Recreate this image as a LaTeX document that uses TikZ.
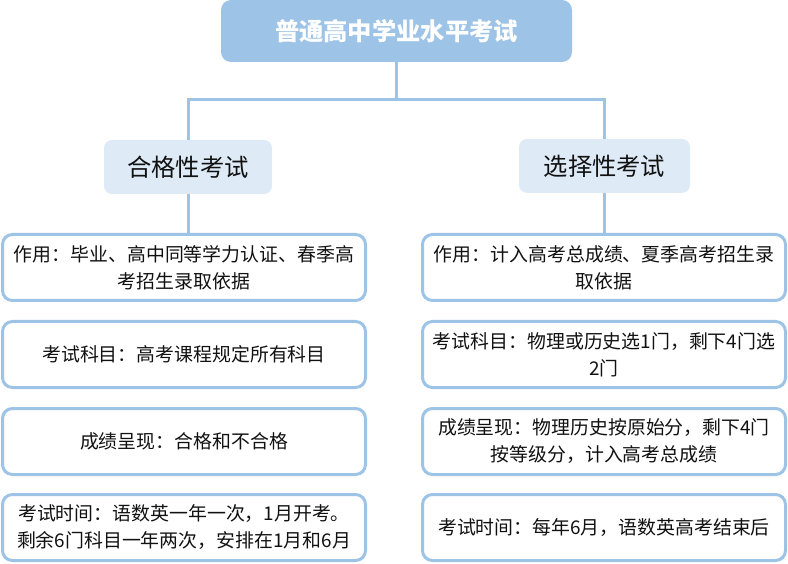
\documentclass[tikz,border=0pt]{standalone}
\usepackage{fontspec}
\setmainfont{Noto Sans CJK SC}
\definecolor{lineblue}{HTML}{9DC3E6}
\definecolor{midfill}{HTML}{DEEBF7}
\definecolor{txt}{HTML}{111111}
\begin{document}
\begin{tikzpicture}[x=1pt,y=1pt,
  topbox/.style={fill=lineblue, rounded corners=10pt, minimum width=351pt, minimum height=62pt, inner sep=0pt,
    text=white, font=\fontsize{24.3}{28}\selectfont\bfseries},
  midbox/.style={fill=midfill, rounded corners=8pt, minimum height=54pt, inner sep=0pt,
    text=txt, font=\fontsize{24.3}{28}\selectfont},
  infobox/.style={draw=lineblue, line width=3pt, rounded corners=10pt, minimum width=363pt, minimum height=66pt,
    inner sep=0pt, align=center, text=txt, font=\fontsize{18.9}{27}\selectfont},
  conn/.style={draw=lineblue, line width=3pt}]
\useasboundingbox (0,0) rectangle (788,-564);
\node[topbox] (top) at (396.5,-31) {普通高中学业水平考试};
\node[midbox, minimum width=168pt] (L) at (188,-167) {合格性考试};
\node[midbox, minimum width=171pt] (R) at (604.5,-166) {选择性考试};
\coordinate (j) at (396.5,-100);
\draw[conn] (top.south) -- (j);
\draw[conn] (j) -| (L.north);
\draw[conn] (j) -| (R.north);
\node[infobox] (L1) at (184,-267.5) {作用：毕业、高中同等学力认证、春季高\\考招生录取依据};
\node[infobox] (L2) at (184,-354.5) {考试科目：高考课程规定所有科目};
\node[infobox] (L3) at (184,-441.5) {成绩呈现：合格和不合格};
\node[infobox] (L4) at (184,-527.5) {考试时间：语数英一年一次，1月开考。\\剩余6门科目一年两次，安排在1月和6月};
\node[infobox] (R1) at (604,-267.5) {作用：计入高考总成绩、夏季高考招生录\\取依据};
\node[infobox] (R2) at (604,-354.5) {考试科目：物理或历史选1门，剩下4门选\\2门};
\node[infobox] (R3) at (604,-441.5) {成绩呈现：物理历史按原始分，剩下4门\\按等级分，计入高考总成绩};
\node[infobox] (R4) at (604,-527.5) {考试时间：每年6月，语数英高考结束后};
\draw[conn] (L.south) -- (L.south |- L1.north);
\draw[conn] (R.south) -- (R.south |- R1.north);
\end{tikzpicture}
\end{document}
